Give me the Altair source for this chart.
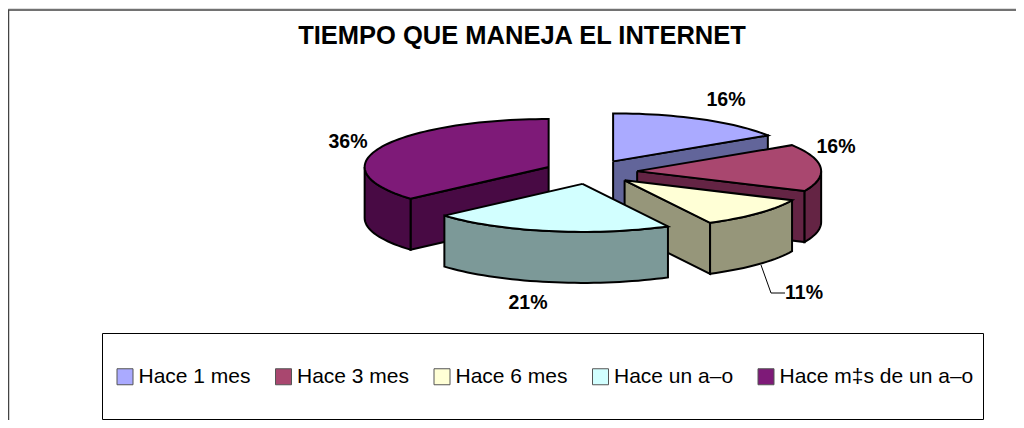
import math
import altair as alt
import pandas as pd

TITLE = "TIEMPO QUE MANEJA EL INTERNET"
SERIES = ["Hace 1 mes", "Hace 3 mes", "Hace 6 mes", "Hace un a\u2013o", "Hace m\u2021s de un a\u2013o"]
SHARES = [15.9, 15.9, 10.51, 21.2, 36.49]
TOP_COLORS = ["#AAAAFF", "#A9476F", "#FFFFD6", "#D2FFFF", "#7E1A78"]
WALL_COLORS = ["#62659A", "#642444", "#96967A", "#7C9998", "#480A44"]
DRAW_ORDER = [0, 4, 1, 2, 3]
LABEL_POS = [(726, 100), (836, 147), (804, 292.5), (528, 303), (348, 142)]

CX, CY, RX, RY, DEPTH, EXPLODE = 590.9, 172.0, 184.0, 48.0, 51.0, 0.252
FONT = "Liberation Sans"

starts, acc = [], 0.0
for s in SHARES:
    starts.append(acc)
    acc += s * 3.6


def rim(cx, cy, deg, drop=0.0):
    a = math.radians(deg)
    return cx + RX * math.sin(a), cy - RY * math.cos(a) + drop


def arc(a0, a1):
    n = max(2, int(abs(a1 - a0) / 2))
    return [a0 + (a1 - a0) * i / n for i in range(n + 1)]


rows = []


def add(piece, key, pts):
    pts = pts + [pts[0]]
    for k, (x, y) in enumerate(pts):
        rows.append({"piece": piece, "key": key, "k": k, "x": x, "y": y})


piece_no = 0
for i in DRAW_ORDER:
    a0 = starts[i]
    a1 = a0 + SHARES[i] * 3.6
    mid = math.radians((a0 + a1) / 2)
    ax = CX + EXPLODE * RX * math.sin(mid)
    ay = CY - EXPLODE * RY * math.cos(mid)
    wall = "wall " + SERIES[i]
    if a0 > 180:
        px, py = rim(ax, ay, a0)
        add(piece_no, wall, [(ax, ay), (px, py), (px, py + DEPTH), (ax, ay + DEPTH)])
        piece_no += 1
    if a1 < 180:
        px, py = rim(ax, ay, a1)
        add(piece_no, wall, [(ax, ay), (px, py), (px, py + DEPTH), (ax, ay + DEPTH)])
        piece_no += 1
    lo, hi = max(a0, 90), min(a1, 270)
    if lo < hi:
        up = [rim(ax, ay, d) for d in arc(lo, hi)]
        down = [rim(ax, ay, d, DEPTH) for d in arc(hi, lo)]
        add(piece_no, wall, up + down)
        piece_no += 1
    add(piece_no, SERIES[i], [(ax, ay)] + [rim(ax, ay, d) for d in arc(a0, a1)])
    piece_no += 1

X = alt.X("x:Q", scale=alt.Scale(domain=[8, 1016], range=[0, 1008]), axis=None)
Y = alt.Y("y:Q", scale=alt.Scale(domain=[8, 420], range=[0, 412]), axis=None)

fill_domain = SERIES + ["wall " + s for s in SERIES]
fill_range = TOP_COLORS + WALL_COLORS

pie = alt.Chart(pd.DataFrame(rows)).mark_line(
    stroke="black", strokeWidth=2, strokeJoin="miter", clip=False
).encode(
    x=X, y=Y,
    detail="piece:N",
    order="k:Q",
    fill=alt.Fill(
        "key:N",
        scale=alt.Scale(domain=fill_domain, range=fill_range),
        legend=alt.Legend(
            values=SERIES, title=None, orient="none", direction="horizontal", columns=5,
            legendX=106.5, legendY=358, symbolType="square", symbolSize=256,
            symbolStrokeColor="#555555", symbolStrokeWidth=1, labelFont=FONT, labelFontSize=21,
            labelColor="black", labelOffset=3, columnPadding=21.5, padding=0, labelLimit=300,
        ),
    ),
)

frame = alt.Chart(pd.DataFrame({"x": [8.5, 8.5, 1016], "y": [420, 10, 10], "k": [0, 1, 2]})).mark_line(
    stroke="#444444", strokeWidth=1.5
).encode(x=X, y=Y, order="k:Q")

box = alt.Chart(pd.DataFrame({"x": [102.5], "x2": [983.5], "y": [333.5], "y2": [419.5]})).mark_rect(
    fill="white", stroke="black", strokeWidth=1
).encode(x=X, x2="x2:Q", y=Y, y2="y2:Q")

title = alt.Chart(pd.DataFrame({"x": [522], "y": [36], "t": [TITLE]})).mark_text(
    font=FONT, fontSize=25.5, fontWeight="bold", color="black", align="center", baseline="middle"
).encode(x=X, y=Y, text="t:N")

labels = alt.Chart(pd.DataFrame({
    "x": [p[0] for p in LABEL_POS],
    "y": [p[1] for p in LABEL_POS],
    "t": [f"{round(s)}%" for s in SHARES],
})).mark_text(
    font=FONT, fontSize=19.5, fontWeight="bold", color="black", align="center", baseline="middle"
).encode(x=X, y=Y, text="t:N")

leader = alt.Chart(pd.DataFrame({"x": [761, 771, 785], "y": [265, 293, 293], "k": [0, 1, 2]})).mark_line(
    stroke="black", strokeWidth=1
).encode(x=X, y=Y, order="k:Q")

chart = alt.layer(frame, box, pie, leader, labels, title).properties(
    width=1008, height=412, padding=0, autosize=alt.AutoSizeParams(type="none")
).configure_view(stroke=None).configure(background="white")

chart.save("out.html", embed_options={"renderer": "svg", "actions": False})
